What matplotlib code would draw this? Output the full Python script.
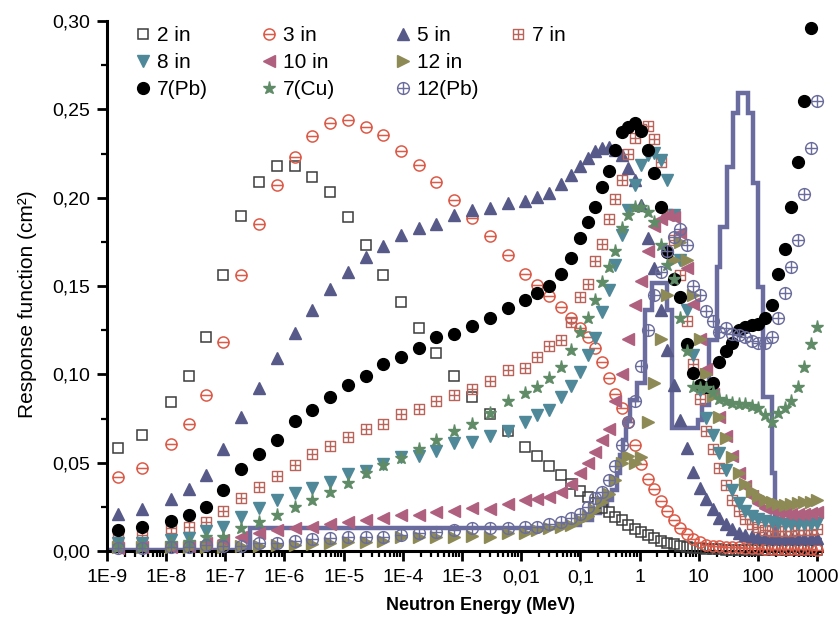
import numpy as np
import matplotlib
matplotlib.use("Agg")
import matplotlib.pyplot as plt
from matplotlib.path import Path
from matplotlib.lines import Line2D
from matplotlib.ticker import LogLocator, FixedLocator, FixedFormatter, NullFormatter, MultipleLocator

plt.rcParams['font.family'] = ['Liberation Sans', 'DejaVu Sans']

# neutron energy grid (MeV), shared by all detector curves
energy = [1.55e-9, 3.9e-9, 1.23e-8, 2.4e-8, 4.8e-8, 9.3e-8, 1.86e-7, 3.7e-7, 7.4e-7, 1.48e-6,
          2.95e-6, 5.9e-6, 1.17e-5, 2.34e-5, 4.7e-5, 9.3e-5, 1.86e-4, 3.7e-4, 7.4e-4, 1.48e-3,
          2.95e-3, 5.9e-3,
          0.0117, 0.0186, 0.0295, 0.0468, 0.0708, 0.1, 0.135, 0.178, 0.234, 0.302,
          0.389, 0.501, 0.646, 0.832, 1.07, 1.38, 1.78, 2.29, 2.95, 3.8,
          4.9, 6.31, 8.13, 10.5, 13.5, 17.4, 22.4, 28.8, 37.2, 47.9,
          61.7, 79.4, 102, 132, 170, 219, 282, 363, 468, 603,
          776, 1000]

# response functions, in units of 0.01 cm^2
r_2in = [5.83, 6.56, 8.43, 9.90, 12.11, 15.62, 18.96, 20.88, 21.79, 21.79, 21.16, 20.32, 18.90, 17.32, 15.62, 14.09,
         12.62, 11.21, 9.90, 8.72, 7.75, 6.79,
         5.89, 5.38, 4.81, 4.30, 3.79, 3.40, 3.06, 2.72, 2.43, 2.21, 1.92, 1.75, 1.47, 1.25, 1.08, 0.91, 0.74, 0.57,
         0.45, 0.40, 0.28, 0.23, 0.17, 0.15, 0.12, 0.10, 0.09, 0.08, 0.07, 0.06, 0.06, 0.05, 0.05, 0.04, 0.04, 0.04,
         0.03, 0.03, 0.03, 0.03, 0.03, 0.03]
r_3in = [4.19, 4.70, 6.06, 7.19, 8.83, 11.83, 15.62, 18.51, 20.71, 22.30, 23.49, 24.22, 24.39, 24.0, 23.54, 22.64,
         21.84, 20.88, 19.86, 18.85, 17.83, 16.75,
         15.68, 15.05, 14.43, 13.81, 13.19, 12.62, 12.11, 11.49, 10.70, 9.79, 8.9, 8.1, 7.3, 6.0, 4.9, 4.1, 3.5, 2.85,
         2.25, 1.75, 1.30, 0.95, 0.70, 0.50, 0.36, 0.30, 0.27, 0.24, 0.22, 0.20, 0.18, 0.17, 0.15, 0.14, 0.13, 0.12,
         0.11, 0.10, 0.10, 0.09, 0.09, 0.08]
r_5in = [2.09, 2.38, 2.94, 3.51, 4.30, 5.77, 7.58, 9.22, 10.92, 12.34, 13.64, 14.83, 15.79, 16.64, 17.26, 17.88,
         18.28, 18.51, 19.02, 19.30, 19.41, 19.69,
         19.81, 20.03, 20.26, 20.77, 21.28, 21.79, 22.24, 22.64, 22.81, 22.86, 22.70, 22.41, 21.67, 21.0, 19.58, 17.71,
         16.02, 13.64, 11.38, 9.39, 7.41, 5.83, 4.47, 3.57, 2.94, 2.38, 1.87, 1.53, 1.25, 1.02, 0.90, 0.85, 0.80, 0.78,
         0.76, 0.75, 0.75, 0.75, 0.75, 0.75, 0.75, 0.75]
r_7in = [0.79, 0.91, 1.30, 1.36, 1.64, 2.26, 3.0, 3.62, 4.24, 4.87, 5.49, 5.94, 6.45, 6.90, 7.19, 7.75,
         8.04, 8.49, 8.83, 9.17, 9.62, 10.24,
         10.36, 10.98, 11.60, 11.94, 12.96, 14.4, 15.1, 16.4, 17.4, 18.8, 19.9, 21.0, 22.5, 23.4, 23.9, 24.05,
         23.3, 22.0, 19.1, 17.6, 15.6, 13.0, 10.6, 8.6, 6.8, 5.8, 4.7, 3.75, 2.9, 2.25, 1.8, 1.55, 1.35, 1.2,
         1.15, 1.13, 1.13, 1.13, 1.19, 1.19, 1.19, 1.25]
r_8in = [0.45, 0.45, 0.62, 0.74, 1.13, 1.36, 1.92, 2.43, 2.89, 3.28, 3.57, 3.90, 4.36, 4.53, 4.92, 5.32,
         5.38, 5.66, 6.10, 6.17, 6.50, 6.80,
         7.30, 7.70, 7.98, 8.72, 9.34, 10.13, 11.09, 12.05, 13.53, 14.77, 16.19, 17.88, 19.30, 20.71, 21.84, 22.41,
         22.52, 22.13, 21.0, 19.02, 16.47, 13.64, 11.09, 9.11, 7.53, 6.56, 5.55, 4.58, 3.45, 2.72, 2.26, 1.98,
         1.81, 1.70, 1.64, 1.58, 1.55, 1.55, 1.55, 1.55, 1.55, 1.60]
r_10in = [0.15, 0.20, 0.25, 0.30, 0.45, 0.60, 0.79, 1.02, 1.20, 1.30, 1.36, 1.53, 1.64, 1.75, 1.87, 2.04,
          2.04, 2.21, 2.26, 2.43, 2.38, 2.66,
          2.89, 2.94, 3.06, 3.34, 3.79, 4.41, 5.0, 5.6, 6.28, 6.9, 8.5, 10.0, 12.0, 13.9, 15.3, 17.0,
          18.4, 18.8, 19.0, 18.9, 18.0, 16.0, 14.0, 12.0, 10.3, 8.9, 7.6, 6.5, 5.4, 4.4, 3.7, 3.1,
          2.7, 2.45, 2.3, 2.2, 2.15, 2.1, 2.1, 2.1, 2.15, 2.2]
r_12in = [0.20, 0.20, 0.20, 0.20, 0.20, 0.25, 0.30, 0.30, 0.35, 0.35, 0.40, 0.45, 0.50, 0.50, 0.55, 0.80,
          0.80, 0.80, 0.80, 0.85, 0.80, 1.0,
          1.0, 1.19, 1.3, 1.36, 1.47, 1.75, 2.0, 2.3, 2.8, 3.2, 4.0, 5.0, 5.4, 5.0, 5.3, 7.3,
          9.5, 12.0, 14.5, 16.5, 17.5, 16.5, 14.5, 12.0, 10.0, 8.8, 7.6, 6.4, 5.3, 4.4, 3.8, 3.4,
          3.1, 2.9, 2.75, 2.65, 2.6, 2.65, 2.7, 2.75, 2.8, 2.9]
r_7pb = [1.19, 1.36, 1.70, 2.04, 2.49, 3.45, 4.64, 5.49, 6.28, 7.36, 7.98, 8.72, 9.39, 9.90, 10.58, 10.98,
         11.49, 12.11, 12.28, 12.73, 13.19, 13.75,
         14.2, 14.6, 15.0, 15.7, 16.6, 17.7, 18.6, 19.5, 20.6, 21.5, 22.7, 23.7, 24.0, 24.2, 23.8, 22.7,
         21.4, 19.5, 16.9, 15.4, 14.4, 11.7, 10.1, 9.4, 9.3, 9.5, 10.7, 11.3, 11.8, 12.5, 12.7, 12.8,
         12.85, 13.2, 13.9, 15.7, 17.1, 19.5, 22.0, 25.5, 29.6, np.nan]
r_7cu = [0.30, 0.30, 0.45, 0.50, 0.80, 0.80, 1.30, 1.64, 2.04, 2.49, 2.89, 3.34, 3.85, 4.41, 4.87, 5.26,
         5.77, 6.28, 6.79, 7.19, 7.80, 8.49,
         8.94, 9.28, 9.79, 10.41, 11.4, 12.4, 13.2, 14.2, 15.2, 16.1, 17.0, 18.3, 19.0, 19.5, 19.5, 19.2,
         18.6, 17.3, 16.2, 15.4, 13.2, 11.3, 9.3, 9.2, 9.2, 9.0, 8.6, 8.5, 8.4, 8.3, 8.3, 8.2,
         8.1, 7.7, 7.3, 7.8, 8.1, 8.5, 9.3, 10.4, 11.7, 12.7]
r_12pb = [0.15, 0.15, 0.20, 0.20, 0.35, 0.30, 0.30, 0.45, 0.45, 0.57, 0.68, 0.74, 0.79, 0.79, 0.79, 0.91,
          1.0, 1.1, 1.2, 1.30, 1.30, 1.30,
          1.36, 1.36, 1.53, 1.64, 1.87, 2.1, 2.5, 3.0, 3.34, 4.0, 4.8, 6.0, 7.3, 8.5, 10.5, 12.5,
          14.5, 15.8, 17.0, 17.8, 18.2, 17.3, 15.0, 14.5, 13.6, 13.0, 12.4, 12.6, 12.3, 12.2, 12.1, 11.9,
          11.8, 11.8, 12.1, 13.2, 14.6, 16.1, 17.6, 20.2, 22.8, 25.5]

# group-wise spectrum drawn as a histogram line
step_edges = [1.0e-9, 2.6e-7, 0.045, 0.099, 0.158, 0.215, 0.283, 0.343, 0.417, 0.469, 0.526,
              0.591, 0.691, 0.908, 1.24, 1.63, 2.92, 3.54, 9.73, 11.4, 14.9, 20.4,
              22.9, 30.1, 37.9, 46.1, 68.0, 82.7, 100, 122, 173, 195, 1210]
step_values = [0.05, 1.30, 1.47, 1.75, 2.15, 2.6, 2.89, 3.45, 4.41, 5.43, 6.28,
               7.41, 8.55, 9.51, 13.64, 15.17, 13.64, 6.96, 7.41, 8.26, 11.94,
               16.07, 18.34, 21.73, 24.79, 25.92, 24.79, 20.83, 14.94, 8.72, 4.41, 0.62]

xtick_pos = [1e-9, 1e-8, 1e-7, 1e-6, 1e-5, 1e-4, 1e-3, 1e-2, 1e-1, 1, 10, 100, 1000]
xtick_labels = ['1E-9', '1E-8', '1E-7', '1E-6', '1E-5', '1E-4', '1E-3', '0,01', '0,1', '1', '10', '100', '1000']
ytick_pos = [0.0, 0.05, 0.10, 0.15, 0.20, 0.25, 0.30]
ytick_labels = ['0,00', '0,05', '0,10', '0,15', '0,20', '0,25', '0,30']

# custom open markers: circle with bar, circle with cross, box with cross
circ = Path.unit_circle()
hbar = Path([(-1, 0), (1, 0)])
vbar = Path([(0, -1), (0, 1)])
box = Path([(-1, -1), (1, -1), (1, 1), (-1, 1), (-1, -1)],
           [Path.MOVETO, Path.LINETO, Path.LINETO, Path.LINETO, Path.CLOSEPOLY])
m_minus = Path.make_compound_path(circ, hbar)
m_plus = Path.make_compound_path(circ, hbar, vbar)
m_box = Path.make_compound_path(box, hbar, vbar)

series = [
    ('2 in', r_2in, dict(marker='s', mfc='none', mec='#3c3c3c', ms=6.8, mew=1.1)),
    ('3 in', r_3in, dict(marker=m_minus, mfc='none', mec='#dc5a48', ms=8, mew=1.1)),
    ('5 in', r_5in, dict(marker='^', color='#575a88', ms=8.5)),
    ('7 in', r_7in, dict(marker=m_box, mfc='none', mec='#b9645a', ms=7.5, mew=1.0)),
    ('8 in', r_8in, dict(marker='v', color='#4f8898', ms=8.5)),
    ('10 in', r_10in, dict(marker='<', color='#b0607f', ms=8.5)),
    ('12 in', r_12in, dict(marker='>', color='#8d8a55', ms=8.5)),
    ('7(Pb)', r_7pb, dict(marker='o', color='black', ms=8.5)),
    ('7(Cu)', r_7cu, dict(marker='*', color='#5f8c66', ms=9.5)),
    ('12(Pb)', r_12pb, dict(marker=m_plus, mfc='none', mec='#6a6c9c', ms=8.5, mew=1.0)),
]

fig = plt.figure(figsize=(8.39, 6.18), dpi=100)
ax = fig.add_axes([0.1275, 0.1084, 0.8522, 0.8576])

ax.stairs(np.array(step_values) / 100, step_edges, baseline=None, color='#6a6b9e', lw=3.2, zorder=2)

handles = {}
for name, vals, st in series:
    ax.plot(energy, np.array(vals) / 100, linestyle='none', clip_on=False, zorder=3, **st)
    handles[name] = Line2D([], [], linestyle='none', **st)

ax.set_xscale('log')
ax.set_xlim(1e-9, 1.21e3)
ax.set_ylim(0, 0.30)

ax.xaxis.set_major_locator(FixedLocator(xtick_pos))
ax.xaxis.set_major_formatter(FixedFormatter(xtick_labels))
ax.xaxis.set_minor_locator(LogLocator(base=10, subs=np.arange(2, 10), numticks=100))
ax.xaxis.set_minor_formatter(NullFormatter())
ax.yaxis.set_major_locator(FixedLocator(ytick_pos))
ax.yaxis.set_major_formatter(FixedFormatter(ytick_labels))
ax.yaxis.set_minor_locator(MultipleLocator(0.025))

for s in ['top', 'right']:
    ax.spines[s].set_visible(False)
for s in ['left', 'bottom']:
    ax.spines[s].set_linewidth(2.2)
ax.tick_params(which='major', direction='out', length=7, width=2, labelsize=14, pad=5)
ax.tick_params(which='minor', direction='out', length=4, width=1.6)
ax.tick_params(axis='x', which='major', pad=6)

ax.set_ylabel('Response function (cm²)', fontsize=15)
ax.yaxis.set_label_coords(-0.098, 0.466)
ax.set_xlabel('Neutron Energy (MeV)', fontsize=13, fontweight='bold')
ax.xaxis.set_label_coords(0.523, -0.087)

columns = [['2 in', '8 in', '7(Pb)'], ['3 in', '10 in', '7(Cu)'],
           ['5 in', '12 in', '12(Pb)'], ['7 in']]
col_x = [0.042, 0.218, 0.4056, 0.5664]
for i, (names, cx) in enumerate(zip(columns, col_x)):
    leg = ax.legend([handles[n] for n in names], names, loc='upper left', bbox_to_anchor=(cx, 0.99),
                    frameon=False, borderpad=0, borderaxespad=0, handlelength=0.6,
                    handletextpad=0.35, labelspacing=0.38, fontsize=15)
    if i < len(columns) - 1:
        ax.add_artist(leg)

fig.savefig('out.png', dpi=100)
